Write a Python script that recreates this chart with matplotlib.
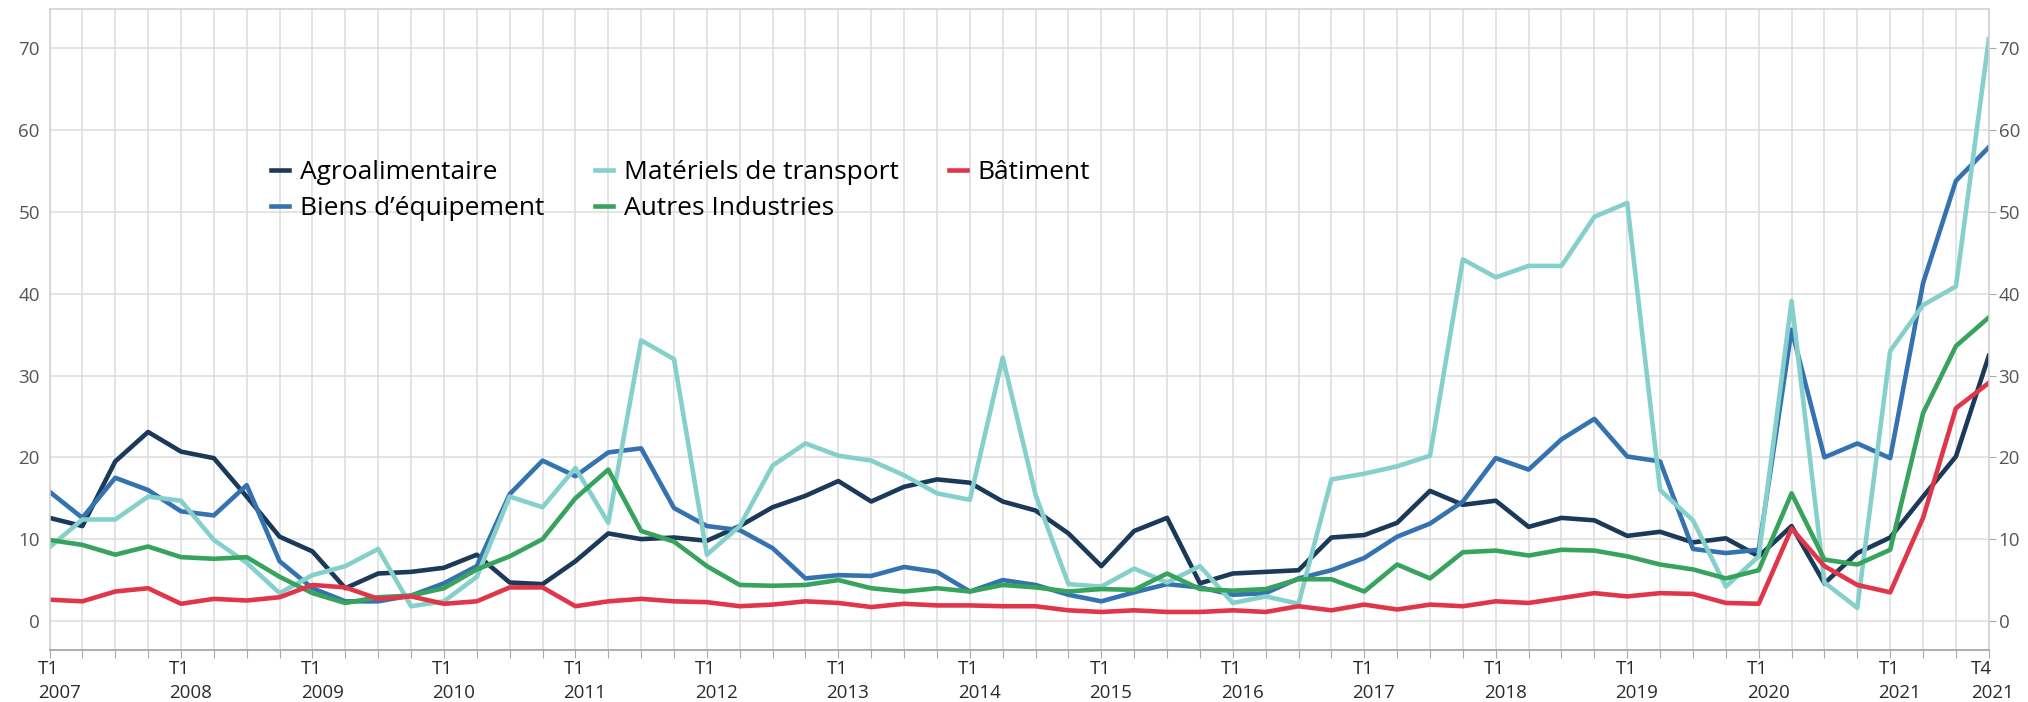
import numpy as np
import matplotlib
matplotlib.use("Agg")
import matplotlib.pyplot as plt

# trimestres T1 2007 -> T4 2021
quarters = [f"T{q} {y}" for y in range(2007, 2022) for q in range(1, 5)]

agro = [12.6, 11.6, 19.5, 23.1, 20.7, 19.9, 15.2, 10.3, 8.5, 4.0,
        5.8, 6.0, 6.5, 8.1, 4.7, 4.5, 7.3, 10.7, 10.0, 10.2,
        9.8, 11.6, 13.9, 15.3, 17.1, 14.6, 16.4, 17.3, 16.9, 14.6,
        13.5, 10.7, 6.7, 11.0, 12.6, 4.6, 5.8, 6.0, 6.2, 10.2,
        10.5, 12.0, 15.9, 14.2, 14.7, 11.5, 12.6, 12.3, 10.4, 10.9,
        9.6, 10.1, 7.9, 11.6, 4.6, 8.3, 10.2, 15.2, 20.1, 32.4]

biens = [15.8, 12.6, 17.5, 16.0, 13.4, 12.9, 16.6, 7.3, 4.0, 2.4,
         2.4, 3.1, 4.6, 6.7, 15.5, 19.6, 17.7, 20.6, 21.1, 13.8,
         11.6, 11.1, 8.9, 5.2, 5.6, 5.5, 6.6, 6.0, 3.6, 5.0,
         4.4, 3.2, 2.4, 3.5, 4.5, 4.1, 3.2, 3.4, 5.2, 6.2,
         7.7, 10.3, 11.9, 14.6, 19.9, 18.5, 22.2, 24.7, 20.1, 19.5,
         8.8, 8.3, 8.7, 35.6, 20.0, 21.7, 19.9, 41.3, 53.8, 57.9]

transport = [9.0, 12.4, 12.4, 15.2, 14.7, 9.9, 7.1, 3.4, 5.6, 6.7,
             8.8, 1.8, 2.4, 5.4, 15.2, 13.9, 18.7, 12.0, 34.3, 32.0,
             8.1, 11.6, 19.0, 21.7, 20.2, 19.6, 17.8, 15.6, 14.8, 32.2,
             15.4, 4.5, 4.2, 6.4, 4.7, 6.7, 2.2, 3.0, 2.1, 17.3,
             18.0, 18.9, 20.2, 44.2, 42.0, 43.4, 43.4, 49.4, 51.1, 16.0,
             12.3, 4.2, 7.9, 39.1, 4.7, 1.6, 33.0, 38.6, 40.9, 71.1]

autres = [9.9, 9.3, 8.1, 9.1, 7.8, 7.6, 7.8, 5.4, 3.4, 2.2,
          2.9, 3.1, 4.0, 6.3, 7.9, 10.0, 15.0, 18.5, 11.0, 9.7,
          6.7, 4.4, 4.3, 4.4, 5.0, 4.0, 3.6, 4.0, 3.6, 4.4,
          4.1, 3.6, 3.9, 3.8, 5.8, 3.9, 3.7, 3.9, 5.1, 5.1,
          3.6, 6.9, 5.2, 8.4, 8.6, 8.0, 8.7, 8.6, 7.9, 6.9,
          6.3, 5.2, 6.2, 15.6, 7.5, 6.9, 8.7, 25.4, 33.6, 37.1]

batiment = [2.6, 2.4, 3.6, 4.0, 2.1, 2.7, 2.5, 2.9, 4.4, 4.1,
            2.7, 3.0, 2.1, 2.4, 4.1, 4.1, 1.8, 2.4, 2.7, 2.4,
            2.3, 1.8, 2.0, 2.4, 2.2, 1.7, 2.1, 1.9, 1.9, 1.8,
            1.8, 1.3, 1.1, 1.3, 1.1, 1.1, 1.3, 1.1, 1.8, 1.3,
            2.0, 1.4, 2.0, 1.8, 2.4, 2.2, 2.8, 3.4, 3.0, 3.4,
            3.3, 2.2, 2.1, 11.3, 6.7, 4.4, 3.5, 12.6, 26.0, 29.1]

series = [
    ("Agroalimentaire", agro, "#1b3a5a"),
    ("Biens d\u2019équipement", biens, "#3572b0"),
    ("Matériels de transport", transport, "#86d0cb"),
    ("Autres Industries", autres, "#37a35c"),
    ("Bâtiment", batiment, "#e0364a"),
]

plt.rcParams['font.family'] = ['Open Sans', 'DejaVu Sans']

fig = plt.figure(figsize=(20.28, 7.02), dpi=100)
ax = fig.add_axes([49.5 / 2028, 1 - 650 / 702, (1988.8 - 49.5) / 2028, (650 - 9) / 702])

x = np.arange(len(quarters))
for name, vals, col in series:
    ax.plot(x, vals, color=col, lw=3.3, label=name)

ax.set_xlim(0, len(quarters) - 1)
ax.set_ylim(-3.55, 74.8)

# grille
ax.set_xticks(x)
ax.set_xticklabels([])
ax.set_yticks(np.arange(0, 71, 10))
ax.grid(True, color="#dcdcdc", lw=1.1)
ax.set_axisbelow(True)
ax.tick_params(axis="x", length=6, color="#aaaaaa")

# etiquettes de l'axe des x : T1 de chaque annee et T4 2021
last = len(quarters) - 1
for i, q in enumerate(quarters):
    t, y = q.split()
    if t == "T1" or i == last:
        dx = -13 if i == last else -8.5
        ax.annotate(t + "\n" + y, xy=(i, 0), xycoords=("data", "axes fraction"),
                    xytext=(dx, -7), textcoords="offset points",
                    ha="left", va="top", fontsize=13.5, color="#2a2a2a",
                    linespacing=1.45)

ax.tick_params(axis="y", left=False, right=True, labelleft=True, labelright=True,
               length=5, pad=2, labelsize=13.5, labelcolor="#555555", color="#aaaaaa")

for s in ["top", "left", "right"]:
    ax.spines[s].set_color("#d0d0d0")
    ax.spines[s].set_linewidth(1.1)
ax.spines["bottom"].set_color("#a0a0a0")
ax.spines["bottom"].set_linewidth(1.2)

leg = ax.legend(loc="center left", bbox_to_anchor=(271 / 2028, 1 - 190.5 / 702),
                bbox_transform=fig.transFigure, ncol=3, frameon=False,
                fontsize=19, handlelength=0.7, handletextpad=0.4,
                columnspacing=1.9, labelspacing=0.4, borderpad=0, borderaxespad=0)

plt.savefig("out.png", dpi=100, facecolor="white")
